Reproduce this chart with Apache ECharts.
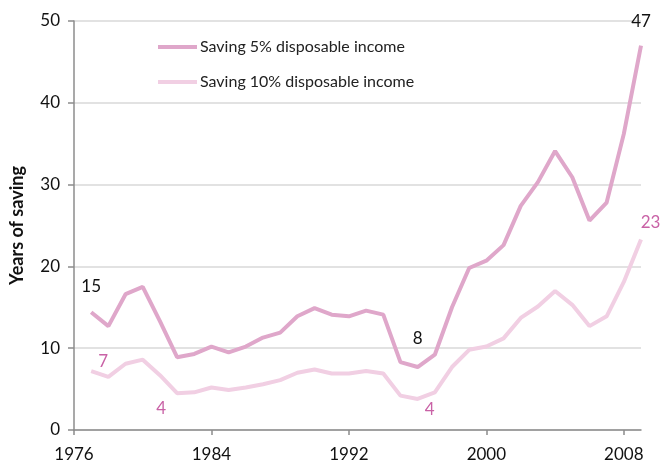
<!DOCTYPE html>
<html><head><meta charset="utf-8">
<script src="https://cdn.jsdelivr.net/npm/echarts@6/dist/echarts.min.js"></script>
<style>html,body{margin:0;padding:0;background:#fff}#c{width:662px;height:463px}</style>
</head><body><div id="c"></div>
<script>
const years = [1977,1978,1979,1980,1981,1982,1983,1984,1985,1986,1987,1988,1989,1990,1991,1992,1993,1994,1995,1996,1997,1998,1999,2000,2001,2002,2003,2004,2005,2006,2007,2008,2009];
const saving5 = [14.4,12.7,16.6,17.5,13.3,8.9,9.3,10.2,9.5,10.2,11.3,11.9,13.9,14.9,14.1,13.9,14.6,14.1,8.3,7.7,9.2,15.0,19.8,20.7,22.6,27.4,30.3,34.1,30.9,25.6,27.8,36.2,47.0];
const saving10 = [7.2,6.5,8.1,8.6,6.7,4.5,4.6,5.2,4.9,5.2,5.6,6.1,7.0,7.4,6.9,6.9,7.2,6.9,4.2,3.8,4.6,7.7,9.8,10.2,11.2,13.7,15.1,17.0,15.3,12.7,13.9,18.1,23.3];
const seriesNames = ['Saving 5% disposable income','Saving 10% disposable income'];
const xTicks = [1976,1984,1992,2000,2008];
// annotated values: [seriesIndex, year, text]
const annotations = [[0,1977,'15'],[1,1977,'7'],[1,1982,'4'],[0,1996,'8'],[1,1996,'4'],[0,2009,'47'],[1,2009,'23']];
const labelStyle = {
  '0-1977': {offset:[0,-12.5], color:'#111'},
  '1-1977': {offset:[12,3.5], color:'#c962a6'},
  '1-1982': {offset:[-16,28.5], color:'#c962a6'},
  '0-1996': {offset:[0,-14.5], color:'#111'},
  '1-1996': {offset:[12,24.5], color:'#c962a6'},
  '0-2009': {offset:[0,-10.5], color:'#111'},
  '1-2009': {offset:[9.5,-3], color:'#c962a6'}
};
const colors = ['#dfa7ca','#f1cfe3'];
const FONT = 'Lato';
function markPoints(si, vals){
  return annotations.filter(a=>a[0]===si).map(a=>{
    const st = labelStyle[si+'-'+a[1]];
    return {coord:[a[1], vals[years.indexOf(a[1])]],
      label:{show:true, formatter:a[2], position:'top', distance:5, offset:st.offset, color:st.color, fontSize:17, lineHeight:17, fontFamily:FONT}};
  });
}
const chart = echarts.init(document.getElementById('c'), null, {renderer:'canvas'});
chart.setOption({
  animation:false,
  grid:{left:72, right:21, top:21, bottom:33, containLabel:false},
  legend:{
    show:true, orient:'vertical', left:153, top:34, itemGap:19, itemWidth:39, itemHeight:4,
    icon:'rect',
    textStyle:{fontFamily:FONT, fontSize:16, lineHeight:16, color:'#222', padding:[0,0,0,-2]},
    data:seriesNames.map((n,i)=>({name:n, itemStyle:{color:colors[i], opacity:1}}))
  },
  xAxis:{
    type:'value', min:1976, max:2009, interval:8,
    axisLine:{show:true, lineStyle:{color:'#8c8c8c', width:1.5}},
    axisTick:{show:true, length:5, lineStyle:{color:'#8c8c8c', width:1.5}},
    splitLine:{show:false},
    axisLabel:{fontFamily:FONT, fontSize:17, color:'#111', margin:16,
      formatter:v=>xTicks.includes(v)?String(v):'', showMaxLabel:false}
  },
  yAxis:{
    type:'value', min:0, max:50, interval:10,
    name:'Years of saving', nameLocation:'middle', nameGap:48,
    nameTextStyle:{fontFamily:FONT, fontWeight:'bold', fontSize:18, color:'#111'},
    axisLine:{show:true, lineStyle:{color:'#8c8c8c', width:1.5}},
    axisTick:{show:true, length:6, lineStyle:{color:'#8c8c8c', width:1.5}},
    splitLine:{show:true, lineStyle:{color:'#d9d9d9', width:1.5}},
    axisLabel:{fontFamily:FONT, fontSize:17, color:'#111', margin:14}
  },
  series:[0,1].map(si=>({
    name:seriesNames[si], type:'line',
    data:years.map((y,i)=>[y, (si===0?saving5:saving10)[i]]),
    symbol:'none', showSymbol:false,
    lineStyle:{color:colors[si], width:4}, itemStyle:{color:colors[si]}, z:3-si,
    markPoint:{symbol:'circle', symbolSize:0, silent:true, itemStyle:{color:'transparent'},
      data:markPoints(si, si===0?saving5:saving10)}
  }))
});
</script></body></html>
